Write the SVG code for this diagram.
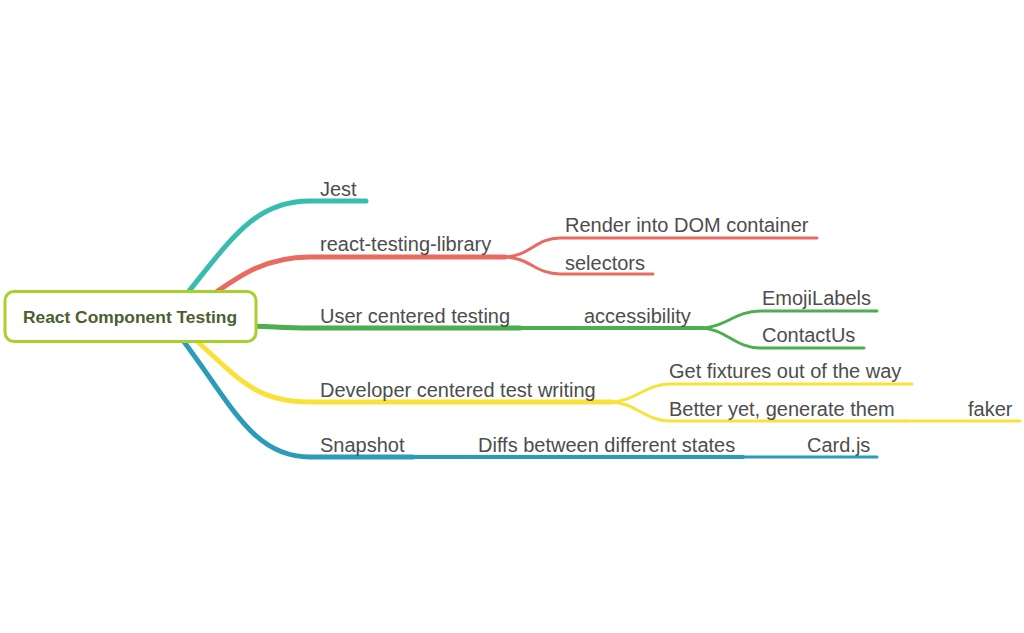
<svg xmlns="http://www.w3.org/2000/svg" width="1024" height="633" viewBox="0 0 1024 633">
<style>
.c{fill:none;stroke-linecap:round;stroke-linejoin:round}
.l1{stroke-width:5}
.l2{stroke-width:4}
.l3{stroke-width:3}
.teal{stroke:#38bcb0}
.red{stroke:#e96a60}
.green{stroke:#4caf4f}
.yellow{stroke:#f8e23a}
.blue{stroke:#2a9bb8}
.t{font-family:"Liberation Sans",Arial,sans-serif;font-size:20px;fill:#4d4d4d}
.root{font-family:"Liberation Sans",Arial,sans-serif;font-size:17.4px;font-weight:bold;fill:#4b5e30}
</style>
<rect width="1024" height="633" fill="#ffffff"/>
<g id="connectors">
<path class="c l1 teal" d="M185,296 C232,238 255,201 310,201 H366"/>
<path class="c l1 red" d="M205,300 C240,275 265,257 310,257 H505"/>
<path class="c l1 green" d="M240,326 C270,326 280,328 310,328 H520"/>
<path class="c l2 green" d="M520,328 H702"/>
<path class="c l1 yellow" d="M185,330 C240,380 255,402 310,402 H612"/>
<path class="c l1 blue" d="M175,330 C230,400 250,457 310,457 H413"/>
<path class="c l2 blue" d="M413,457 H743"/>
<path class="c l3 blue" d="M743,457 H877"/>
<path class="c l3 red" d="M503,257 C530,257 535,238 560,238 H817"/>
<path class="c l3 red" d="M503,257 C530,257 535,274 560,274 H653"/>
<path class="c l3 green" d="M700,328 C725,328 735,311 760,311 H877"/>
<path class="c l3 green" d="M700,328 C725,328 735,348 760,348 H864"/>
<path class="c l3 yellow" d="M610,402 C635,402 645,384 670,384 H912"/>
<path class="c l3 yellow" d="M610,402 C635,402 645,421 670,421 H905"/>
<path class="c l3 yellow" d="M905,421 H1020"/>
</g>
<g id="root">
<rect x="5" y="291.5" width="251" height="50" rx="9" fill="#ffffff" stroke="#a8d02c" stroke-width="3"/>
<text class="root" x="130" y="323" text-anchor="middle">React Component Testing</text>
</g>
<g id="jest"><text class="t" x="320" y="196">Jest</text></g>
<g id="rtl"><text class="t" x="320" y="251">react-testing-library</text></g>
<g id="render"><text class="t" x="565" y="232">Render into DOM container</text></g>
<g id="selectors"><text class="t" x="565" y="270">selectors</text></g>
<g id="user"><text class="t" x="320" y="323">User centered testing</text></g>
<g id="accessibility"><text class="t" x="584" y="323">accessibility</text></g>
<g id="emoji"><text class="t" x="762" y="305">EmojiLabels</text></g>
<g id="contact"><text class="t" x="762" y="342">ContactUs</text></g>
<g id="developer"><text class="t" x="320" y="397">Developer centered test writing</text></g>
<g id="fixtures"><text class="t" x="669" y="378">Get fixtures out of the way</text></g>
<g id="better"><text class="t" x="669" y="416">Better yet, generate them</text></g>
<g id="faker"><text class="t" x="968" y="416">faker</text></g>
<g id="snapshot"><text class="t" x="320" y="452">Snapshot</text></g>
<g id="diffs"><text class="t" x="478" y="452">Diffs between different states</text></g>
<g id="card"><text class="t" x="807" y="452">Card.js</text></g>
</svg>
